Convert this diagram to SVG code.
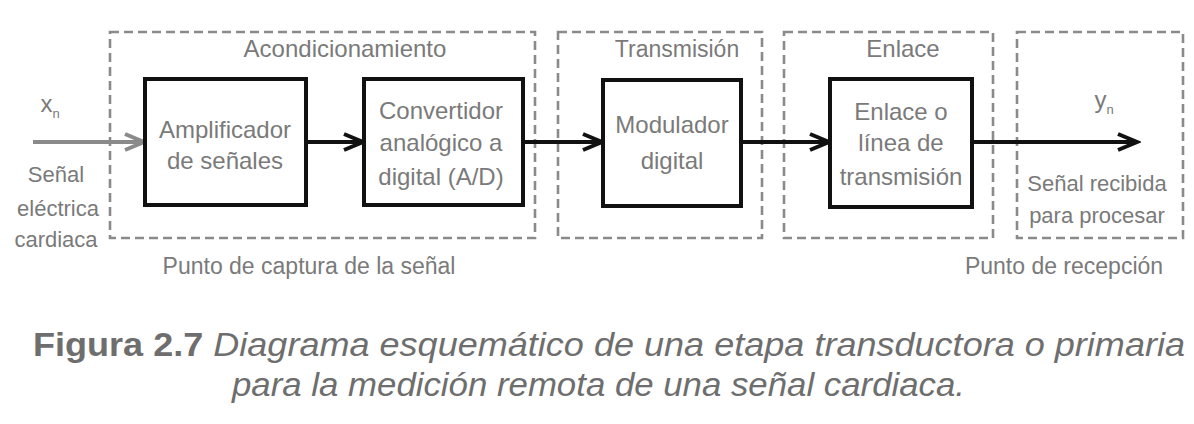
<svg xmlns="http://www.w3.org/2000/svg" width="1194" height="424" viewBox="0 0 1194 424">
<style>
.grp{fill:none;stroke:#8a8a8a;stroke-width:2.6;stroke-dasharray:9 5}
.blk{fill:#fff;stroke:#111;stroke-width:4}
.t{font-family:"Liberation Sans",Arial,sans-serif;font-size:24px;fill:#7a7a7a;text-anchor:middle}
.s{font-size:22px}
.cap{font-family:"Liberation Sans",Arial,sans-serif;font-size:33px;fill:#6e6e6e;font-style:italic}
.conn{stroke:#111;stroke-width:4;fill:none}
</style>
<defs>
<marker id="ah" markerUnits="userSpaceOnUse" markerWidth="26" markerHeight="22" refX="22" refY="11" orient="auto">
<path d="M3,3 L22,11 L3,19" fill="none" stroke="#111" stroke-width="4" stroke-linejoin="miter"/>
</marker>
<marker id="ahg" markerUnits="userSpaceOnUse" markerWidth="26" markerHeight="22" refX="22" refY="11" orient="auto">
<path d="M3,3 L22,11 L3,19" fill="none" stroke="#8a8a8a" stroke-width="4"/>
</marker>
</defs>
<rect width="1194" height="424" fill="#fff"/>
<g id="groups">
<rect class="grp" x="110" y="32" width="425" height="206"/>
<rect class="grp" x="558" y="32" width="204" height="206"/>
<rect class="grp" x="784" y="32" width="209" height="206"/>
<rect class="grp" x="1017" y="32" width="166" height="206"/>
<text class="t" x="345" y="57">Acondicionamiento</text>
<text class="t" x="677" y="57" style="font-size:23px">Transmisión</text>
<text class="t" x="903" y="57">Enlace</text>
</g>
<g id="connectors">
<line x1="33" y1="142" x2="144" y2="142" stroke="#8a8a8a" stroke-width="4" marker-end="url(#ahg)"/>
<line class="conn" x1="306" y1="142" x2="363" y2="142" marker-end="url(#ah)"/>
<line class="conn" x1="523" y1="142" x2="602" y2="142" marker-end="url(#ah)"/>
<line class="conn" x1="741" y1="142" x2="829" y2="142" marker-end="url(#ah)"/>
<line class="conn" x1="972" y1="142" x2="1137" y2="142" marker-end="url(#ah)"/>
</g>
<g id="input">
<text class="t" x="50" y="112">x<tspan font-size="13" dy="6">n</tspan></text>
<text class="t s" x="56" y="182">Señal</text>
<text class="t s" x="58" y="216">eléctrica</text>
<text class="t s" x="56" y="247">cardiaca</text>
</g>
<g id="amplificador">
<rect class="blk" x="145" y="79" width="161" height="126"/>
<text class="t" x="225" y="138">Amplificador</text>
<text class="t" x="225" y="169">de señales</text>
</g>
<g id="convertidor">
<rect class="blk" x="364" y="79" width="159" height="126"/>
<text class="t" x="441" y="119">Convertidor</text>
<text class="t" x="441" y="151">analógico a</text>
<text class="t" x="441" y="185">digital (A/D)</text>
</g>
<g id="modulador">
<rect class="blk" x="603" y="80" width="138" height="126"/>
<text class="t" x="672" y="133">Modulador</text>
<text class="t" x="672" y="169">digital</text>
</g>
<g id="enlace">
<rect class="blk" x="830" y="79" width="142" height="128"/>
<text class="t" x="901" y="120">Enlace o</text>
<text class="t" x="901" y="151">línea de</text>
<text class="t" x="901" y="185">transmisión</text>
</g>
<g id="output">
<text class="t" x="1104" y="108">y<tspan font-size="13" dy="6">n</tspan></text>
<text class="t s" x="1097" y="191">Señal recibida</text>
<text class="t s" x="1097" y="223">para procesar</text>
</g>
<text class="t" x="309" y="274" style="font-size:23px">Punto de captura de la señal</text>
<text class="t" x="1064" y="274" style="font-size:23px">Punto de recepción</text>
<g id="caption">
<text class="cap" x="33" y="356" textLength="1152" lengthAdjust="spacingAndGlyphs"><tspan font-weight="bold" font-style="normal">Figura 2.7</tspan> Diagrama esquemático de una etapa transductora o primaria</text>
<text class="cap" x="232" y="396" textLength="733" lengthAdjust="spacingAndGlyphs">para la medición remota de una señal cardiaca.</text>
</g>
</svg>
